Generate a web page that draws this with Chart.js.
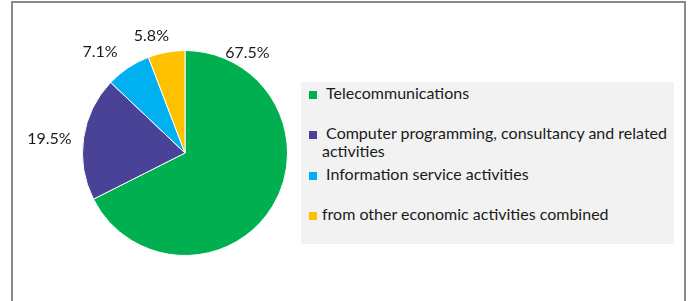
<!DOCTYPE html>
<html>
<head>
<meta charset="utf-8">
<script src="https://cdn.jsdelivr.net/npm/chart.js@4/dist/chart.umd.min.js"></script>
<style>
  html, body { margin: 0; padding: 0; background: #fff; }
  #wrap { position: relative; width: 688px; height: 301px; overflow: hidden; font-family: Lato, "Open Sans", sans-serif; }
  #frame { position: absolute; left: 11px; top: 1px; width: 671px; height: 330px;
           border: 2px solid #8a8a8a; border-bottom: none; }
  #chartPie { position: absolute; left: 0; top: 0; }
  #legend { position: absolute; left: 301px; top: 82px; width: 373px; height: 162px; background: #f2f2f2; }
  #legend .item { position: relative; height: 40.3px; }
  #legend .box { position: absolute; left: 8px; top: 7px; width: 8px; height: 8px; }
  #legend .txt { position: absolute; left: 21px; top: 0; width: 348px; font-size: 16px; line-height: 18px;
                 color: #1a1a1a; white-space: pre-wrap; }
</style>
</head>
<body>
<div id="wrap">
  <div id="frame"></div>
  <canvas id="chartPie" width="688" height="301"></canvas>
  <div id="legend"></div>
</div>
<script>
const categories = [
  ' Telecommunications',
  ' Computer programming, consultancy and related activities',
  ' Information service activities',
  'from other economic activities combined'
];
const shares = [67.5, 19.5, 7.1, 5.8];
const shareLabels = ['67.5%', '19.5%', '7.1%', '5.8%'];
const sliceColors = ['#00b050', '#4a4297', '#00b0f0', '#ffc000'];

// where excel put the percentage labels: clock angle (deg from 12 o'clock) and distance in radii
const labelPlacement = [
  { angle: 32, dist: 1.15 },
  { angle: 276, dist: 1.33 },
  { angle: 320, dist: 1.29 },
  { angle: 344, dist: 1.19 }
];

const outsideLabels = {
  id: 'outsideLabels',
  afterDatasetsDraw(chart) {
    const ctx = chart.ctx;
    const meta = chart.getDatasetMeta(0);
    ctx.save();
    ctx.font = '16px Lato, "Open Sans", sans-serif';
    ctx.fillStyle = '#1a1a1a';
    ctx.textAlign = 'center';
    ctx.textBaseline = 'middle';
    meta.data.forEach(function (arc, i) {
      const p = arc.getProps(['x', 'y', 'outerRadius'], true);
      const a = (labelPlacement[i].angle - 90) * Math.PI / 180;
      const r = p.outerRadius * labelPlacement[i].dist;
      ctx.fillText(shareLabels[i], p.x + Math.cos(a) * r, p.y + Math.sin(a) * r);
    });
    ctx.restore();
  }
};

const ctx1 = document.getElementById('chartPie').getContext('2d');
const chart1 = new Chart(ctx1, {
  type: 'pie',
  data: {
    labels: categories,
    datasets: [{
      data: shares,
      backgroundColor: sliceColors,
      borderColor: '#ffffff',
      borderWidth: 1
    }]
  },
  options: {
    responsive: false,
    animation: false,
    layout: { padding: { left: 82, right: 400, top: 50, bottom: 45 } },
    plugins: {
      legend: { display: false },
      tooltip: { enabled: false }
    }
  },
  plugins: [outsideLabels]
});

// legend built from the same arrays
const legend = document.getElementById('legend');
categories.forEach(function (name, i) {
  const item = document.createElement('div');
  item.className = 'item';
  if (i === 0) item.style.marginTop = '2px';
  const box = document.createElement('div');
  box.className = 'box';
  box.style.background = sliceColors[i];
  const txt = document.createElement('div');
  txt.className = 'txt';
  txt.textContent = name;
  item.appendChild(box);
  item.appendChild(txt);
  legend.appendChild(item);
});
</script>
</body>
</html>
